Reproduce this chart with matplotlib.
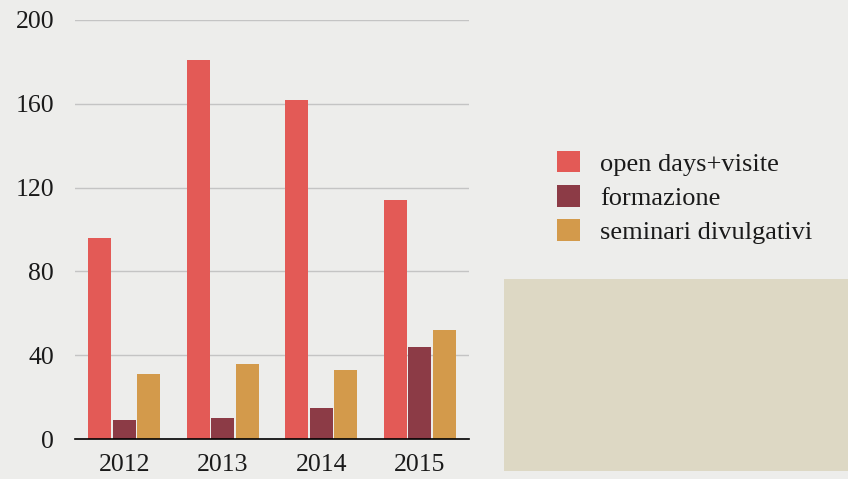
import numpy as np
import matplotlib.pyplot as plt
from matplotlib.patches import Rectangle, Patch

#%% values
years = ["2012", "2013", "2014", "2015"]
open_days = [96, 181, 162, 114]
formazione = [9, 10, 15, 44]
seminari = [31, 36, 33, 52]
series_names = ["open days+visite", "formazione", "seminari divulgativi"]
colors = ["#e35a56", "#8c3b46", "#d39a4b"]
y_ticks = [0, 40, 80, 120, 160, 200]

plt.rcParams['font.family'] = ['Liberation Serif', 'DejaVu Serif']

#%% figure
fig = plt.figure(figsize=(8.48, 4.79), dpi=100)
fig.patch.set_facecolor("#ededeb")

# beige block bottom right
fig.patches.append(Rectangle((504/848, 1-471/479), 344/848, 192/479,
                             transform=fig.transFigure, facecolor="#ddd8c4",
                             edgecolor="none", zorder=0))

ax = fig.add_axes([75/848, 1-439/479, 394/848, 419/479])
ax.set_facecolor("none")

x = np.arange(len(years))
off = 0.25
w = 0.235
for k, vals in enumerate([open_days, formazione, seminari]):
    ax.bar(x + (k-1)*off, vals, width=w, color=colors[k], zorder=3)

ax.set_xlim(-0.5, 3.5)
ax.set_ylim(0, 200)
ax.set_yticks(y_ticks)
ax.set_xticks(x)
ax.set_xticklabels(years)
ax.yaxis.grid(True, color="#c4c4c4", linewidth=1)
ax.set_axisbelow(True)
for s in ["top", "right", "left"]:
    ax.spines[s].set_visible(False)
ax.spines["bottom"].set_color("black")
ax.spines["bottom"].set_linewidth(1.2)
ax.spines["bottom"].set_zorder(4)
ax.tick_params(axis="both", length=0, labelsize=18.5, colors="#1a1a1a")
ax.tick_params(axis="y", pad=15)
ax.tick_params(axis="x", pad=11)

handles = [Patch(facecolor=c, edgecolor="none") for c in colors]
fig.legend(handles, series_names, loc="upper left",
           bbox_to_anchor=(546/848, 1-140/479), frameon=False,
           fontsize=19, handlelength=0.9, handleheight=0.9,
           handletextpad=0.75, labelspacing=0.35, borderaxespad=0,
           labelcolor="#1a1a1a")

fig.savefig("out.png", dpi=100, facecolor=fig.get_facecolor())
